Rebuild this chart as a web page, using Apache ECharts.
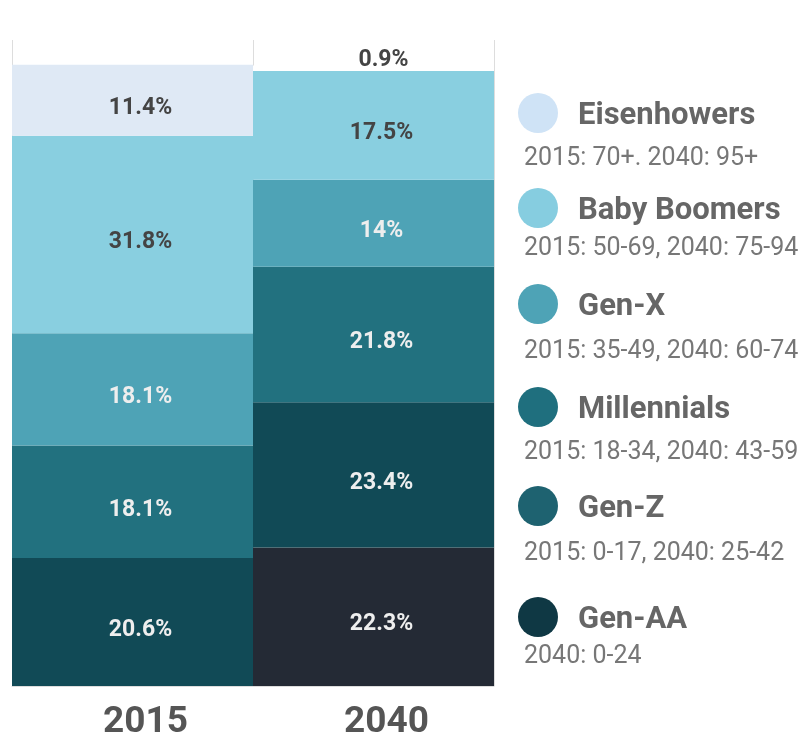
<!DOCTYPE html>
<html>
<head>
<meta charset="utf-8">
<script src="https://cdn.jsdelivr.net/npm/echarts@6/dist/echarts.min.js"></script>
<style>
    html, body { margin: 0; padding: 0; background: #fff; }
    #chart { width: 805px; height: 736px; }
</style>
</head>
<body>
<div id="chart"></div>
<script>
// 年份
var years = ['2015', '2040'];
// 各代人口占比（%），从下往上堆叠
var genAA = [0, 22.3];
var genZ = [20.6, 23.4];
var millennials = [18.1, 21.8];
var genX = [18.1, 14];
var babyBoomers = [31.8, 17.5];
var eisenhowers = [11.4, 0.9];
// 图例说明
var legendNames = ['Eisenhowers', 'Baby Boomers', 'Gen-X', 'Millennials', 'Gen-Z', 'Gen-AA'];
var legendNotes = ['2015: 70+. 2040: 95+', '2015: 50-69, 2040: 75-94', '2015: 35-49, 2040: 60-74',
    '2015: 18-34, 2040: 43-59', '2015: 0-17, 2040: 25-42', '2040: 0-24'];

var font = 'Roboto, "DejaVu Sans", sans-serif';
var legendColors = ['#cfe3f6', '#86cde0', '#4ea3b6', '#1f6f7e', '#1e6270', '#0f3844'];
var legendTops = [93, 188, 284, 387, 486, 597];
var noteTops = [146, 236, 339, 440, 541, 644];

var chart = echarts.init(document.getElementById('chart'));

function makeSeries(name, data, color, labelColor) {
    return {
        name: name,
        type: 'bar',
        stack: 'total',
        barWidth: '100%',
        data: data,
        itemStyle: { color: color },
        label: {
            show: true,
            position: 'inside',
            offset: [8, 8],
            color: labelColor,
            fontFamily: font,
            fontWeight: 'bold',
            fontSize: 23,
            formatter: function (p) {
                return p.value ? p.value + '%' : '';
            }
        }
    };
}

var eisenSeries = makeSeries('Eisenhowers', eisenhowers, '#dfe9f5', '#444');
// 2040年的0.9%太窄，文字放在上方
eisenSeries.data = eisenhowers.map(function (v, i) {
    if (i === 1) {
        return {
            value: v,
            itemStyle: { color: '#ffffff' },
            label: { offset: [10, -8] }
        };
    }
    return v;
});

var legends = [];
var graphics = [];
for (let i = 0; i < legendNames.length; i++) {
    legends.push({
        data: [{ name: legendNames[i], itemStyle: { color: legendColors[i] } }],
        left: 518,
        top: legendTops[i],
        padding: 0,
        icon: 'circle',
        itemWidth: 40,
        itemHeight: 40,
        selectedMode: false,
        formatter: '{n|{name}}',
        textStyle: {
            rich: {
                n: {
                    padding: [6, 0, 0, 15],
                    fontFamily: font,
                    fontWeight: 'bold',
                    fontSize: 31,
                    color: '#666'
                }
            }
        }
    });
    graphics.push({
        type: 'text',
        left: 524,
        top: noteTops[i],
        style: {
            text: legendNotes[i],
            fontFamily: font,
            fontSize: 25,
            fill: '#777'
        }
    });
}

var option = {
    animation: false,
    backgroundColor: '#fff',
    grid: {
        left: 12,
        right: 311,
        top: 40,
        bottom: 50,
        outerBoundsMode: 'none'
    },
    legend: legends,
    graphic: graphics,
    xAxis: {
        type: 'category',
        data: years,
        boundaryGap: true,
        axisTick: { show: false },
        axisLine: { lineStyle: { color: '#dddddd' } },
        splitLine: { show: true, lineStyle: { color: '#dddddd', width: 1 } },
        axisLabel: {
            margin: 18,
            padding: [0, 0, 0, 26],
            color: '#555',
            fontFamily: font,
            fontWeight: 'bold',
            fontSize: 37
        }
    },
    yAxis: {
        type: 'value',
        min: 0,
        max: 104,
        show: false,
        splitLine: { show: false }
    },
    series: [
        makeSeries('Gen-AA', genAA, '#242a35', '#eeeeee'),
        makeSeries('Gen-Z', genZ, '#114a56', '#eeeeee'),
        makeSeries('Millennials', millennials, '#22717f', '#eeeeee'),
        makeSeries('Gen-X', genX, '#4ea3b6', '#eeeeee'),
        makeSeries('Baby Boomers', babyBoomers, '#89cfe0', '#444'),
        eisenSeries
    ]
};
chart.setOption(option);
</script>
</body>
</html>
